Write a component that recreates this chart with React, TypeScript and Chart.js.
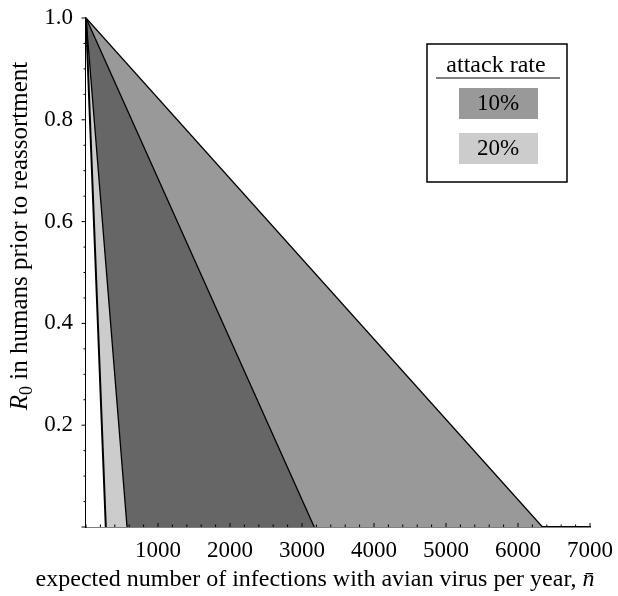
import React, { useEffect, useRef } from "react";
import { Chart, registerables } from "chart.js";

Chart.register(...registerables);

// ---- data ----
// x-intercepts (expected infections per year) at which R0 boundary lines reach 0; all start at R0 = 1 when n = 0
const attackRates = ["10%", "20%"];
const upperIntercepts = [6340, 3170]; // outer boundary of each attack-rate band
const lowerIntercepts = [570, 275]; // inner boundary of each attack-rate band
const R0_START = 1.0;
const legendColors = ["#999999", "#cccccc"];
const overlapColor = "#666666";

const xTickLabels = [1000, 2000, 3000, 4000, 5000, 6000, 7000];
const yTickLabels = [0.2, 0.4, 0.6, 0.8, 1.0];
const X_MINOR_STEP = 200;
const Y_MINOR_STEP = 0.05;

const FONT = '"Liberation Serif", "Times New Roman", serif';
const TICK_SIZE = 23;
const TITLE_SIZE = 24;

function line(intercept: number) {
  return [
    { x: 0, y: R0_START },
    { x: intercept, y: 0 },
  ];
}

export default function App() {
  const ref = useRef<HTMLCanvasElement | null>(null);

  useEffect(() => {
    const canvas = ref.current;
    if (!canvas) return;

    const overlay = {
      id: "overlay",
      afterDraw(chart: any) {
        const ctx = chart.ctx as CanvasRenderingContext2D;
        const xs = chart.scales.x;
        const ys = chart.scales.y;
        const area = chart.chartArea;
        ctx.save();
        ctx.strokeStyle = "#000";
        ctx.lineWidth = 1;
        // x ticks (inside, upward)
        for (let v = 0; v <= 7000 + 1e-6; v += X_MINOR_STEP) {
          const px = xs.getPixelForValue(v);
          const major = xTickLabels.includes(Math.round(v));
          const len = major ? 4 : 2.5;
          ctx.beginPath();
          ctx.moveTo(px, area.bottom);
          ctx.lineTo(px, area.bottom - len);
          ctx.stroke();
        }
        // y ticks (outside, left)
        for (let i = 0; i <= 20; i++) {
          const v = i * Y_MINOR_STEP;
          const py = ys.getPixelForValue(v);
          const major = i % 4 === 0;
          const len = major ? 4.5 : 2.5;
          ctx.beginPath();
          ctx.moveTo(area.left, py);
          ctx.lineTo(area.left - len, py);
          ctx.stroke();
        }

        ctx.fillStyle = "#000";
        // x title
        const xt1 = "expected number of infections with avian virus per year, ";
        const xt2 = "n\u0304";
        ctx.font = `${TITLE_SIZE}px ${FONT}`;
        const w1 = ctx.measureText(xt1).width;
        ctx.font = `italic ${TITLE_SIZE}px ${FONT}`;
        const w2 = ctx.measureText(xt2).width;
        const xStart = 315 - (w1 + w2) / 2;
        ctx.textBaseline = "alphabetic";
        ctx.textAlign = "left";
        ctx.font = `${TITLE_SIZE}px ${FONT}`;
        ctx.fillText(xt1, xStart, 586);
        ctx.font = `italic ${TITLE_SIZE}px ${FONT}`;
        ctx.fillText(xt2, xStart + w1, 586);

        // y title (rotated)
        ctx.save();
        ctx.translate(27, 236);
        ctx.rotate(-Math.PI / 2);
        const r = "R";
        const sub = "0";
        const rest = " in humans prior to reassortment";
        const ysz = 25;
        ctx.font = `italic ${ysz}px ${FONT}`;
        const wr = ctx.measureText(r).width;
        ctx.font = `${Math.round(ysz * 0.72)}px ${FONT}`;
        const ws = ctx.measureText(sub).width;
        ctx.font = `${ysz}px ${FONT}`;
        const wrest = ctx.measureText(rest).width;
        let sx = -(wr + ws + wrest) / 2;
        ctx.font = `italic ${ysz}px ${FONT}`;
        ctx.fillText(r, sx, 0);
        sx += wr;
        ctx.font = `${Math.round(ysz * 0.72)}px ${FONT}`;
        ctx.fillText(sub, sx, 5);
        sx += ws;
        ctx.font = `${ysz}px ${FONT}`;
        ctx.fillText(rest, sx, 0);
        ctx.restore();

        // legend
        const lx = 427, ly = 44, lw = 140, lh = 138;
        ctx.fillStyle = "#fff";
        ctx.fillRect(lx, ly, lw, lh);
        ctx.lineWidth = 1.5;
        ctx.strokeStyle = "#000";
        ctx.strokeRect(lx, ly, lw, lh);
        ctx.fillStyle = "#000";
        ctx.font = `24px ${FONT}`;
        ctx.textAlign = "center";
        ctx.textBaseline = "alphabetic";
        ctx.fillText("attack rate", 496, 72);
        ctx.lineWidth = 1.2;
        ctx.beginPath();
        ctx.moveTo(436, 78);
        ctx.lineTo(560, 78);
        ctx.stroke();
        const boxTops = [88, 133];
        ctx.font = `23px ${FONT}`;
        attackRates.forEach((lab, i) => {
          ctx.fillStyle = legendColors[i];
          ctx.fillRect(459, boxTops[i], 79, 31);
          ctx.fillStyle = "#000";
          ctx.textBaseline = "middle";
          ctx.fillText(lab, 498, boxTops[i] + 16);
        });
        ctx.restore();
      },
    };

    const triangles = [
      { intercept: upperIntercepts[0], color: legendColors[0], order: 4, width: 1.3 },
      { intercept: upperIntercepts[1], color: overlapColor, order: 3, width: 1.3 },
      { intercept: lowerIntercepts[0], color: legendColors[1], order: 2, width: 1.3 },
      { intercept: lowerIntercepts[1], color: "#ffffff", order: 1, width: 2 },
    ];

    const chart = new Chart(canvas, {
      type: "line",
      data: {
        datasets: triangles.map((t) => ({
          data: line(t.intercept),
          borderColor: "#000",
          borderWidth: t.width,
          backgroundColor: t.color,
          fill: "origin",
          pointRadius: 0,
          tension: 0,
          order: t.order,
        })),
      },
      options: {
        animation: false,
        responsive: false,
        devicePixelRatio: 1,
        layout: { padding: { left: 0, top: 18, right: 28, bottom: 0 } },
        plugins: { legend: { display: false }, tooltip: { enabled: false } },
        scales: {
          x: {
            type: "linear",
            min: 0,
            max: 7000,
            grid: { display: false, drawTicks: false },
            border: { display: true, color: "#000", width: 1.5 },
            ticks: {
              stepSize: 1000,
              color: "#000",
              font: { family: FONT, size: TICK_SIZE },
              padding: 10,
              maxRotation: 0,
              autoSkip: false,
              callback: (v: any) => (xTickLabels.includes(Number(v)) ? String(v) : ""),
            },
            afterFit: (s: any) => {
              s.height = 69;
              s.paddingLeft = 0;
              s.paddingRight = 0;
            },
          },
          y: {
            type: "linear",
            min: 0,
            max: 1,
            grid: { display: false, drawTicks: false },
            border: { display: true, color: "#000", width: 1.5 },
            ticks: {
              stepSize: 0.2,
              color: "#000",
              font: { family: FONT, size: TICK_SIZE },
              padding: 13,
              autoSkip: false,
              callback: (v: any) => {
                const n = Math.round(Number(v) * 10) / 10;
                return yTickLabels.includes(n) ? n.toFixed(1) : "";
              },
            },
            afterFit: (s: any) => {
              s.width = 86;
              s.paddingTop = 0;
              s.paddingBottom = 0;
            },
          },
        },
      },
      plugins: [overlay],
    });
    return () => chart.destroy();
  }, []);

  return (
    <div style={{ position: "absolute", left: 0, top: 0, width: 618, height: 596, background: "#fff" }}>
      <canvas ref={ref} width={618} height={596} style={{ width: 618, height: 596 }} />
    </div>
  );
}
